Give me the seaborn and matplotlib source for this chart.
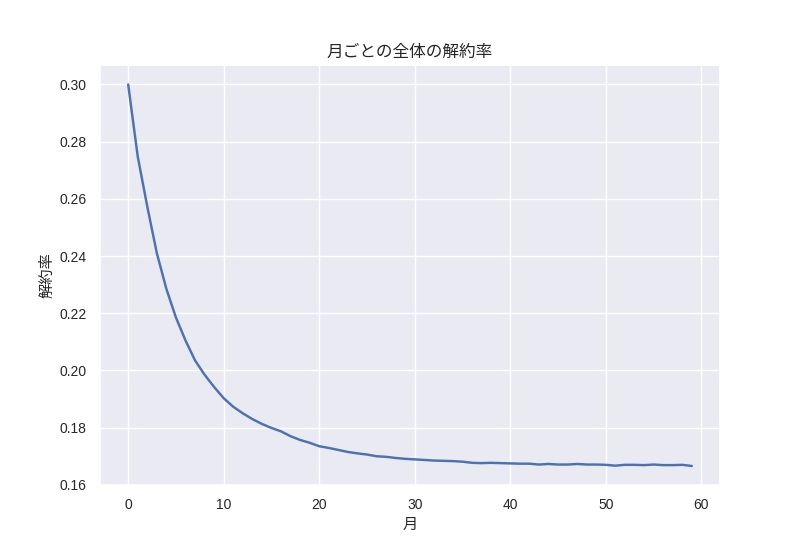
import matplotlib
matplotlib.use("Agg")
import matplotlib.pyplot as plt
import seaborn as sns
import pandas as pd

months = list(range(60))
churn_rate = [
    0.3000, 0.2748, 0.2573, 0.2410, 0.2285, 0.2185, 0.2105, 0.2035, 0.1985, 0.1942,
    0.1903, 0.1873, 0.1850, 0.1830, 0.1813, 0.1799, 0.1787, 0.1770, 0.1757, 0.1747,
    0.1735, 0.1729, 0.1722, 0.1715, 0.1710, 0.1706, 0.1700, 0.1698, 0.1694, 0.1691,
    0.1689, 0.1687, 0.1685, 0.1684, 0.1683, 0.1681, 0.1677, 0.1676, 0.1677, 0.1676,
    0.1675, 0.1674, 0.1674, 0.1671, 0.1673, 0.1671, 0.1671, 0.1673, 0.1671, 0.1671,
    0.1670, 0.1667, 0.1670, 0.1670, 0.1669, 0.1671, 0.1669, 0.1669, 0.1670, 0.1666,
]
title = "月ごとの全体の解約率"
xlabel = "月"
ylabel = "解約率"

sns.set_theme(style="darkgrid", context="notebook", palette="deep",
              rc={"font.size": 10, "xtick.labelsize": 10, "ytick.labelsize": 10,
                  "axes.labelsize": 11, "axes.titlesize": 12,
                  "lines.linewidth": 1.75})
plt.rcParams["font.family"] = ["Liberation Sans", "Noto Sans CJK JP", "DejaVu Sans"]

df = pd.DataFrame({"month": months, "rate": churn_rate})

fig, ax = plt.subplots(figsize=(8, 5.45), dpi=100)
fig.subplots_adjust(left=0.125, right=0.9, top=0.88, bottom=0.11)
sns.lineplot(data=df, x="month", y="rate", ax=ax)
ax.set_title(title)
ax.set_xlabel(xlabel)
ax.set_ylabel(ylabel)
fig.savefig("out.png", dpi=100)
